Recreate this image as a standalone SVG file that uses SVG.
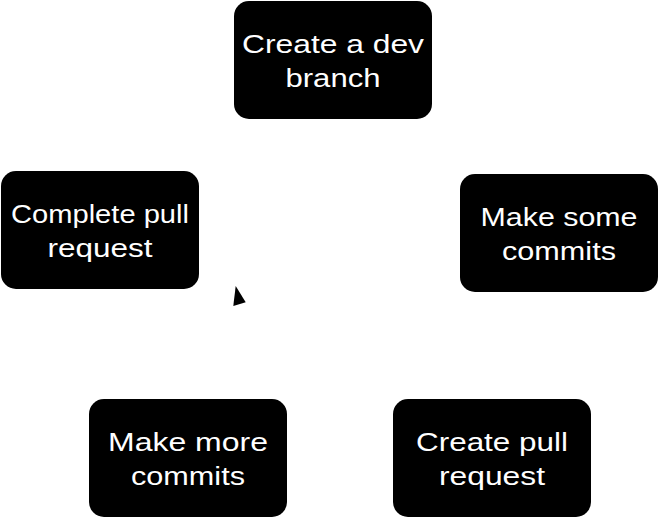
<svg xmlns="http://www.w3.org/2000/svg" width="661" height="520" viewBox="0 0 661 520">
<style>
.box{fill:#000;stroke:none}
.lbl{fill:#fff;font-family:"Liberation Sans","Open Sans",sans-serif;font-size:25px;text-anchor:middle}
</style>
<rect width="661" height="520" fill="#fff"/>
<g id="connectors">
<polygon points="235.7,286 233.3,306 245.7,302.3" fill="#000"/>
</g>
<g id="node-dev-branch">
<rect class="box" x="234" y="1" width="198" height="118" rx="15"/>
<text class="lbl" x="333" y="53" textLength="182" lengthAdjust="spacingAndGlyphs">Create a dev</text>
<text class="lbl" x="333" y="87" textLength="95" lengthAdjust="spacingAndGlyphs">branch</text>
</g>
<g id="node-some-commits">
<rect class="box" x="460" y="174" width="198" height="118" rx="15"/>
<text class="lbl" x="559" y="226" textLength="157" lengthAdjust="spacingAndGlyphs">Make some</text>
<text class="lbl" x="559" y="260" textLength="114" lengthAdjust="spacingAndGlyphs">commits</text>
</g>
<g id="node-create-pr">
<rect class="box" x="393" y="399" width="198" height="118" rx="15"/>
<text class="lbl" x="492" y="451" textLength="152" lengthAdjust="spacingAndGlyphs">Create pull</text>
<text class="lbl" x="492" y="485" textLength="106" lengthAdjust="spacingAndGlyphs">request</text>
</g>
<g id="node-more-commits">
<rect class="box" x="89" y="399" width="198" height="118" rx="15"/>
<text class="lbl" x="188" y="451" textLength="160" lengthAdjust="spacingAndGlyphs">Make more</text>
<text class="lbl" x="188" y="485" textLength="114" lengthAdjust="spacingAndGlyphs">commits</text>
</g>
<g id="node-complete-pr">
<rect class="box" x="1" y="171" width="198" height="118" rx="15"/>
<text class="lbl" x="100" y="223" textLength="178" lengthAdjust="spacingAndGlyphs">Complete pull</text>
<text class="lbl" x="100" y="257" textLength="105" lengthAdjust="spacingAndGlyphs">request</text>
</g>
</svg>
